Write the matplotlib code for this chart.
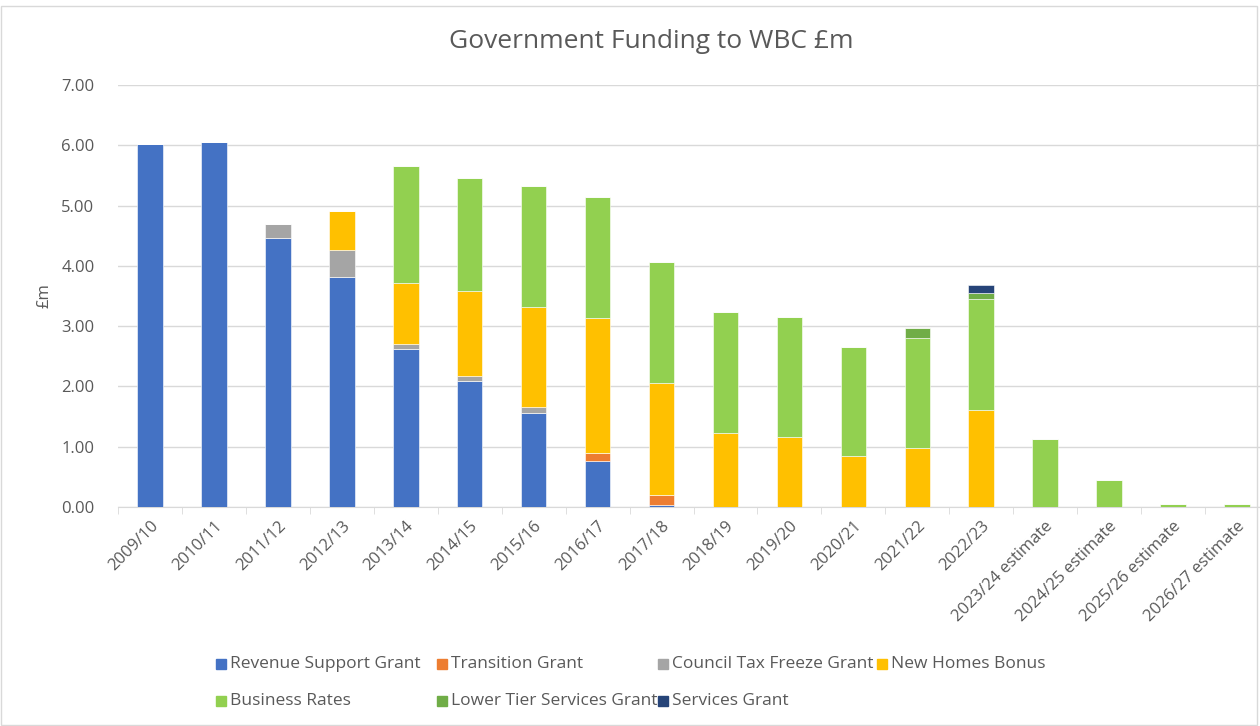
import matplotlib.pyplot as plt
from matplotlib.patches import Rectangle
import numpy as np

plt.rcParams['font.family'] = ['Open Sans', 'DejaVu Sans']

years = ['2009/10', '2010/11', '2011/12', '2012/13', '2013/14', '2014/15',
         '2015/16', '2016/17', '2017/18', '2018/19', '2019/20', '2020/21',
         '2021/22', '2022/23', '2023/24 estimate', '2024/25 estimate',
         '2025/26 estimate', '2026/27 estimate']

series_names = ['Revenue Support Grant', 'Transition Grant', 'Council Tax Freeze Grant',
                'New Homes Bonus', 'Business Rates', 'Lower Tier Services Grant',
                'Services Grant']

revenue_support = [6.02, 6.05, 4.46, 3.82, 2.62, 2.09, 1.56, 0.76, 0.04, 0, 0, 0, 0, 0, 0, 0, 0, 0]
transition = [0, 0, 0, 0, 0, 0, 0, 0.14, 0.16, 0, 0, 0, 0, 0, 0, 0, 0, 0]
council_tax_freeze = [0, 0, 0.23, 0.45, 0.08, 0.08, 0.10, 0, 0, 0, 0, 0, 0, 0, 0, 0, 0, 0]
new_homes = [0, 0, 0, 0.64, 1.01, 1.41, 1.66, 2.23, 1.86, 1.22, 1.16, 0.85, 0.98, 1.61, 0, 0, 0, 0]
business_rates = [0, 0, 0, 0, 1.94, 1.88, 2.01, 2.02, 2.00, 2.01, 1.99, 1.80, 1.83, 1.84, 1.13, 0.44, 0.05, 0.05]
lower_tier = [0, 0, 0, 0, 0, 0, 0, 0, 0, 0, 0, 0, 0.16, 0.10, 0, 0, 0, 0]
services = [0, 0, 0, 0, 0, 0, 0, 0, 0, 0, 0, 0, 0, 0.14, 0, 0, 0, 0]

colors = ['#4472C4', '#ED7D31', '#A5A5A5', '#FFC000', '#92D050', '#70AD47', '#264478']
series = [revenue_support, transition, council_tax_freeze, new_homes,
          business_rates, lower_tier, services]

W, H = 1260, 726
fig = plt.figure(figsize=(W / 100, H / 100), dpi=100)
ax = fig.add_axes([118 / W, 219 / H, 1151 / W, 422 / H])

x = np.arange(len(years))
bottom = np.zeros(len(years))
for vals, col in zip(series, colors):
    vals = np.array(vals)
    ax.bar(x, vals, 0.40, bottom=bottom, color=col, edgecolor='white', linewidth=0.4, zorder=3)
    bottom += vals

ax.set_xlim(-0.5, len(years) - 0.5)
ax.set_ylim(0, 7)
ax.set_yticks(np.arange(0, 8, 1))
ax.set_yticklabels([f'{v:.2f}' for v in range(8)])
ax.yaxis.grid(True, color='#D9D9D9', linewidth=1, zorder=0)
for s in ['top', 'right', 'left']:
    ax.spines[s].set_visible(False)
ax.spines['bottom'].set_color('#D9D9D9')
ax.tick_params(axis='y', length=0, labelsize=12, labelcolor='#595959', pad=17)
ax.set_xticks(x)
ax.set_xticklabels(years, rotation=45, ha='right', rotation_mode='anchor',
                   fontsize=12, color='#595959')
ax.tick_params(axis='x', length=0, pad=8)
ax.set_xticks(np.arange(-0.5, len(years), 1), minor=True)
ax.tick_params(axis='x', which='minor', length=5, color='#D9D9D9')
ax.set_ylabel('£m', fontsize=12, color='#595959', labelpad=6)

fig.text(651 / W, 1 - 42 / H, 'Government Funding to WBC £m', ha='center', va='center',
         fontsize=19, color='#595959')

# legend laid out like the Excel one: 4 fixed-width columns, 2 rows
col_x = [216, 437, 658, 877]
row_y = [664, 701]
for i, (name, col) in enumerate(zip(series_names, colors)):
    cx = col_x[i % 4]
    cy = row_y[i // 4]
    fig.text((cx + 14) / W, 1 - cy / H, name, ha='left', va='center',
             fontsize=12.5, color='#595959')
for i, col in enumerate(colors):
    cx = col_x[i % 4]
    cy = row_y[i // 4]
    fig.patches.append(Rectangle((cx / W, 1 - (cy + 5) / H), 10 / W, 10 / H,
                                 transform=fig.transFigure, color=col, figure=fig, zorder=5))

fig.patches.append(Rectangle((1 / W, 1 / H), 1256 / W, 719 / H, transform=fig.transFigure,
                             fill=False, edgecolor='#D9D9D9', linewidth=1, figure=fig))

fig.savefig('out.png', dpi=100)
